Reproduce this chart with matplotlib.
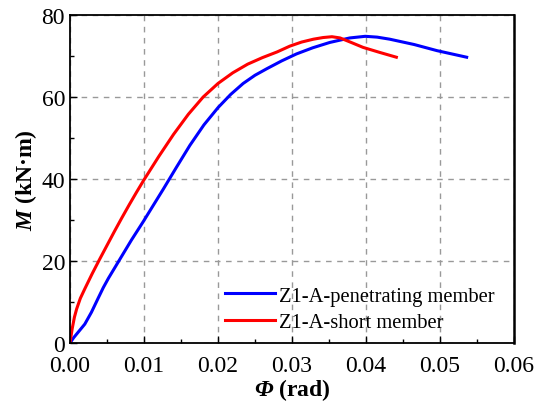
import matplotlib
matplotlib.use("Agg")
import matplotlib.pyplot as plt
from matplotlib.ticker import MultipleLocator

plt.rcParams['font.family'] = 'Liberation Serif'
plt.rcParams['mathtext.fontset'] = 'custom'
plt.rcParams['mathtext.it'] = 'Liberation Serif:italic:bold'
plt.rcParams['mathtext.rm'] = 'Liberation Serif:italic:bold'

# Z1-A penetrating member (blue)
phi_pen = [0.0, 0.0005, 0.0010, 0.0020, 0.0029, 0.0038, 0.0045, 0.0052, 0.0060, 0.0068,
           0.0083, 0.0099, 0.0113, 0.0126, 0.0144, 0.0162, 0.0181, 0.0200, 0.0217, 0.0234,
           0.0250, 0.0266, 0.0286, 0.0306, 0.0328, 0.0351, 0.0378, 0.0399, 0.0415, 0.0432,
           0.0465, 0.0496, 0.0536]
m_pen = [0.0, 1.3, 2.4, 4.6, 7.5, 10.9, 13.5, 15.8, 18.2, 20.6,
         25.1, 29.6, 33.7, 37.5, 42.9, 48.2, 53.2, 57.4, 60.6, 63.3,
         65.3, 66.9, 68.8, 70.5, 72.0, 73.3, 74.4, 74.8, 74.6, 74.1,
         72.8, 71.3, 69.7]

# Z1-A short member (red)
phi_short = [0.0, 0.0003, 0.0006, 0.0009, 0.0014, 0.0020, 0.0030, 0.0040, 0.0050, 0.0060,
             0.0070, 0.0080, 0.0090, 0.0100, 0.0120, 0.0140, 0.0160, 0.0180, 0.0200, 0.0220,
             0.0240, 0.0260, 0.0280, 0.0297, 0.0313, 0.0329, 0.0342, 0.0354, 0.0365, 0.0380,
             0.0396, 0.0418, 0.0441]
m_short = [0.0, 3.5, 6.3, 8.3, 10.9, 13.2, 16.9, 20.4, 23.8, 27.2,
           30.5, 33.7, 36.8, 39.8, 45.5, 50.9, 55.8, 60.0, 63.3, 65.9,
           68.0, 69.6, 71.0, 72.4, 73.4, 74.1, 74.5, 74.7, 74.4, 73.3,
           72.1, 70.9, 69.7]

fig = plt.figure(figsize=(5.48, 4.10), dpi=100)
ax = fig.add_axes([0.1277, 0.161, 0.8103, 0.800])

ax.plot(phi_pen, m_pen, color='#0000ff', lw=2.2, label='Z1-A-penetrating member')
ax.plot(phi_short, m_short, color='#ff0000', lw=2.2, label='Z1-A-short member')

ax.set_xlim(0, 0.06)
ax.set_ylim(0, 80)
ax.xaxis.set_major_locator(MultipleLocator(0.01))
ax.xaxis.set_minor_locator(MultipleLocator(0.005))
ax.yaxis.set_major_locator(MultipleLocator(20))
ax.yaxis.set_minor_locator(MultipleLocator(10))
ax.xaxis.set_major_formatter(plt.FormatStrFormatter('%.2f'))
ax.tick_params(which='both', direction='in', labelsize=17, top=False, right=False)
ax.tick_params(which='major', length=5, width=1)
ax.tick_params(which='minor', length=3, width=1)
ax.tick_params(axis='x', pad=9)
ax.grid(True, which='major', linestyle=(0, (4, 4)), color='#999999', lw=1)
for s in ax.spines.values():
    s.set_linewidth(1.3)
ax.spines['right'].set_linewidth(1.8)

ax.set_xlabel(r'$\mathrm{\Phi}$ (rad)', fontsize=17, fontweight='bold', labelpad=0)
ax.set_ylabel('$M$ (kN·m)', fontsize=17, fontweight='bold', labelpad=2)

ax.legend(loc='upper left', frameon=False, fontsize=14.8, handlelength=2.45,
          handletextpad=0.2, labelspacing=0.35, borderpad=0, borderaxespad=0,
          bbox_to_anchor=(0.349, 0.173))

fig.savefig('out.png', dpi=100)
